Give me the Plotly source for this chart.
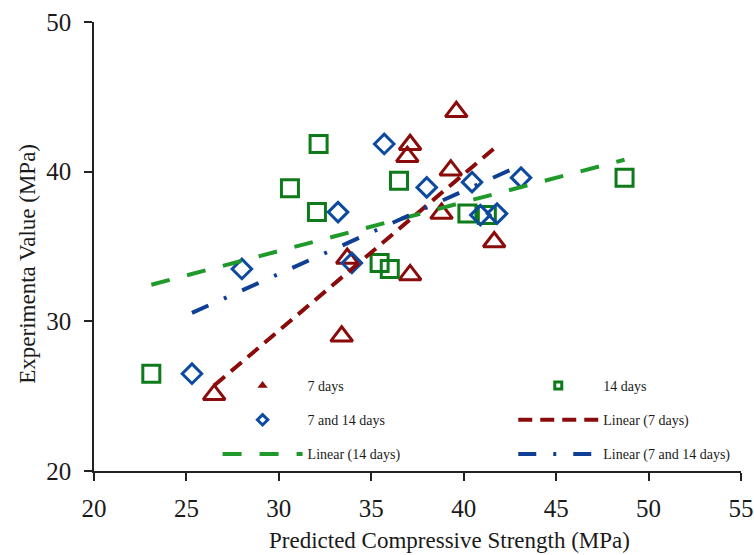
import numpy as np
import plotly.graph_objects as go

# ---- data ----
x_7 = [26.5, 33.4, 33.7, 37.1, 37.1, 36.95, 39.6, 39.3, 38.8, 41.65]
y_7 = [25.1, 29.0, 34.2, 33.1, 41.8, 41.0, 44.0, 40.1, 37.2, 35.3]

x_14 = [23.1, 30.6, 32.15, 32.06, 36.5, 35.45, 36.0, 40.2, 41.25, 48.7]
y_14 = [26.5, 38.9, 41.85, 37.3, 39.4, 33.9, 33.5, 37.2, 37.1, 39.6]

x_both = [25.3, 28.0, 33.2, 33.95, 35.7, 38.0, 40.45, 40.9, 41.8, 43.1]
y_both = [26.5, 33.5, 37.3, 33.9, 41.85, 38.95, 39.3, 37.1, 37.2, 39.6]

x_ticks = [20, 25, 30, 35, 40, 45, 50, 55]
y_ticks = [20, 30, 40, 50]

names = ["7 days", "14 days", "7 and 14 days"]

RED = "#8B0A0A"
GREEN_M = "#0E7A1A"
GREEN_L = "#1F9A2A"
BLUE = "#0B4A9E"
BLUE_L = "#0F3F95"
SERIF = "Liberation Serif"
TXT = "#1a1a1a"


def trend(xs, ys):
    k, b = np.polyfit(xs, ys, 1)
    xx = np.array([min(xs), max(xs)])
    return xx, k * xx + b


fig = go.Figure()

# data markers
fig.add_trace(go.Scatter(x=x_7, y=y_7, mode="markers", showlegend=False,
                         marker=dict(symbol="triangle-up-open", size=19,
                                     color=RED, line=dict(width=3, color=RED))))
fig.add_trace(go.Scatter(x=x_14, y=y_14, mode="markers", showlegend=False,
                         marker=dict(symbol="square-open", size=17,
                                     color=GREEN_M, line=dict(width=3, color=GREEN_M))))
fig.add_trace(go.Scatter(x=x_both, y=y_both, mode="markers", showlegend=False,
                         marker=dict(symbol="diamond-open", size=15,
                                     color=BLUE, line=dict(width=3, color=BLUE))))

# trendlines
tx, ty = trend(x_7, y_7)
fig.add_trace(go.Scatter(x=tx, y=ty, mode="lines", name="Linear (7 days)",
                         legend="legend2", legendgroup="l7", legendrank=2,
                         line=dict(color=RED, width=4, dash="14px,8px")))
tx, ty = trend(x_14, y_14)
fig.add_trace(go.Scatter(x=tx, y=ty, mode="lines", name="Linear (14 days)",
                         legend="legend", legendgroup="l14", legendrank=3,
                         line=dict(color=GREEN_L, width=4, dash="19px,18px")))
tx, ty = trend(x_both, y_both)
fig.add_trace(go.Scatter(x=tx, y=ty, mode="lines", name="Linear (7 and 14 days)",
                         legend="legend2", legendgroup="lb", legendrank=3,
                         line=dict(color=BLUE_L, width=4, dash="18px,17px,3px,17px")))

# legend-only marker entries (small symbols as in the reference legend)
fig.add_trace(go.Scatter(x=[None], y=[None], mode="markers", name=names[0],
                         legend="legend", legendgroup="m7", legendrank=1,
                         marker=dict(symbol="triangle-up", size=9, color=RED)))
fig.add_trace(go.Scatter(x=[None], y=[None], mode="markers", name=names[2],
                         legend="legend", legendgroup="mb", legendrank=2,
                         marker=dict(symbol="diamond-open", size=8, color=BLUE,
                                     line=dict(width=3, color=BLUE))))
fig.add_trace(go.Scatter(x=[None], y=[None], mode="markers", name=names[1],
                         legend="legend2", legendgroup="m14", legendrank=1,
                         marker=dict(symbol="square-open", size=7, color=GREEN_M,
                                     line=dict(width=3, color=GREEN_M))))

legend_common = dict(font=dict(family=SERIF, size=14, color=TXT),
                     bgcolor="rgba(0,0,0,0)", borderwidth=0,
                     tracegroupgap=13, itemwidth=80, orientation="v",
                     xanchor="left", yanchor="top", traceorder="grouped")

fig.update_layout(
    width=754, height=555,
    margin=dict(l=94, r=13, t=22, b=84, autoexpand=False),
    paper_bgcolor="white", plot_bgcolor="white",
    legend=dict(x=0.191, y=0.225, **legend_common),
    legend2=dict(x=0.648, y=0.225, **legend_common),
    xaxis=dict(range=[20, 55], tickvals=x_ticks, ticktext=[str(v) for v in x_ticks],
               showgrid=False, zeroline=False, showline=True, linecolor="#222",
               linewidth=1.5, ticks="outside", ticklen=8, tickwidth=1.5,
               tickcolor="#222", ticklabelstandoff=6, ticklabeloverflow="allow",
               automargin=False,
               tickfont=dict(family=SERIF, size=25, color=TXT)),
    yaxis=dict(range=[20, 50], tickvals=y_ticks, ticktext=[str(v) for v in y_ticks],
               showgrid=False, zeroline=False, showline=True, linecolor="#222",
               linewidth=1.5, ticks="outside", ticklen=8, tickwidth=1.5,
               tickcolor="#222", ticklabelstandoff=8, automargin=False,
               tickfont=dict(family=SERIF, size=25, color=TXT)),
    annotations=[
        dict(text="Predicted Compressive Strength (MPa)", xref="paper", yref="paper",
             x=0.55, y=-0.154, xanchor="center", yanchor="middle", showarrow=False,
             font=dict(family=SERIF, size=23, color=TXT)),
        dict(text="Experimenta Value (MPa)", xref="paper", yref="paper",
             x=-0.104, y=0.461, xanchor="center", yanchor="middle", showarrow=False,
             textangle=-90, font=dict(family=SERIF, size=23, color=TXT)),
    ],
)

fig.write_html("out.html")
